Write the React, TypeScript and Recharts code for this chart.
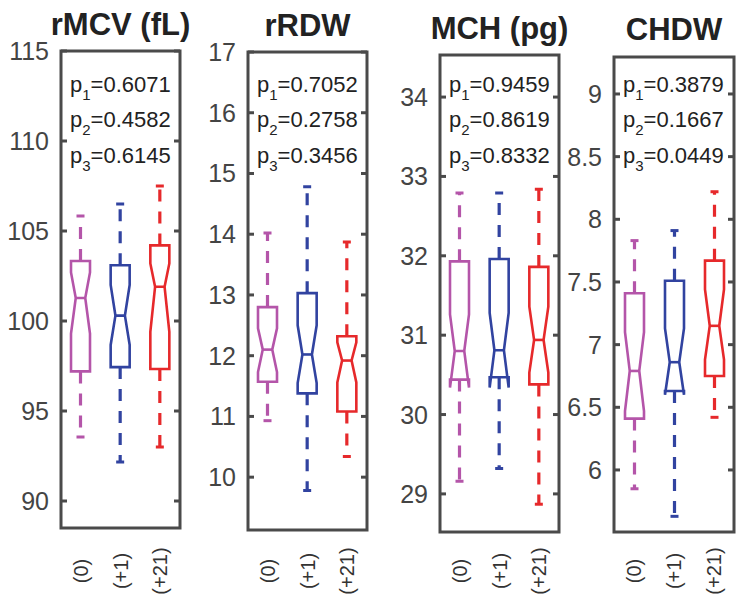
import React from "react";
import { ComposedChart, Bar, XAxis, YAxis, ReferenceArea } from "recharts";

// groups on the x axis
const groups = ["(0)", "(+1)", "(+21)"];
const boxColors = ["#B455A9", "#3143A0", "#E6292B"];

// rMCV (fL)
const rmcvLo = [93.55, 92.17, 93.0];
const rmcvQ1 = [97.2, 97.44, 97.33];
const rmcvNotchLo = [99.3, 98.67, 99.4];
const rmcvMed = [101.28, 100.3, 101.9];
const rmcvNotchHi = [102.7, 102.0, 103.2];
const rmcvQ3 = [103.33, 103.1, 104.2];
const rmcvHi = [105.83, 106.5, 107.5];
const rmcvTicks = [90, 95, 100, 105, 110, 115];
const rmcvDomain = [88.5, 115];
const rmcvP = ["0.6071", "0.4582", "0.6145"];

// rRDW
const rrdwLo = [10.93, 9.78, 10.34];
const rrdwQ1 = [11.57, 11.38, 11.08];
const rrdwNotchLo = [11.73, 11.55, 11.56];
const rrdwMed = [12.1, 12.02, 11.92];
const rrdwNotchHi = [12.45, 12.5, 12.22];
const rrdwQ3 = [12.8, 13.03, 12.32];
const rrdwHi = [14.02, 14.78, 13.87];
const rrdwTicks = [10, 11, 12, 13, 14, 15, 16, 17];
const rrdwDomain = [9.13, 17];
const rrdwP = ["0.7052", "0.2758", "0.3456"];

// MCH (pg)
const mchLo = [29.16, 29.32, 28.87];
const mchQ1 = [30.44, 30.47, 30.38];
const mchNotchLo = [30.34, 30.34, 30.53];
const mchMed = [30.8, 30.81, 30.94];
const mchNotchHi = [31.26, 31.28, 31.36];
const mchQ3 = [31.93, 31.96, 31.86];
const mchHi = [32.79, 32.79, 32.84];
const mchTicks = [29, 30, 31, 32, 33, 34];
const mchDomain = [28.52, 34.53];
const mchP = ["0.9459", "0.8619", "0.8332"];

// CHDW
const chdwLo = [5.85, 5.63, 6.42];
const chdwQ1 = [6.41, 6.63, 6.75];
const chdwNotchLo = [6.47, 6.6, 6.88];
const chdwMed = [6.79, 6.86, 7.15];
const chdwNotchHi = [7.1, 7.13, 7.44];
const chdwQ3 = [7.41, 7.51, 7.67];
const chdwHi = [7.83, 7.91, 8.22];
const chdwTicks = [6, 6.5, 7, 7.5, 8, 8.5, 9];
const chdwDomain = [5.505, 9.295];
const chdwP = ["0.3879", "0.1667", "0.0449"];

const FONT = "'Liberation Sans', Arial, Helvetica, sans-serif";
const FRAME = "#4a4a4a";
const AXIS_W = 60;

const buildRows = (
  lo: number[], q1: number[], nlo: number[], med: number[],
  nhi: number[], q3: number[], hi: number[]
) =>
  groups.map((g, i) => ({
    grp: g,
    range: [lo[i], hi[i]],
    lo: lo[i], q1: q1[i], nlo: nlo[i], med: med[i], nhi: nhi[i], q3: q3[i], hi: hi[i],
  }));

const panels = [
  { title: "rMCV (fL)", rows: buildRows(rmcvLo, rmcvQ1, rmcvNotchLo, rmcvMed, rmcvNotchHi, rmcvQ3, rmcvHi), ticks: rmcvTicks, domain: rmcvDomain, p: rmcvP, L: 61, R: 180, T: 51, B: 528, titleY: 35 },
  { title: "rRDW", rows: buildRows(rrdwLo, rrdwQ1, rrdwNotchLo, rrdwMed, rrdwNotchHi, rrdwQ3, rrdwHi), ticks: rrdwTicks, domain: rrdwDomain, p: rrdwP, L: 248, R: 367, T: 52, B: 530, titleY: 36 },
  { title: "MCH (pg)", rows: buildRows(mchLo, mchQ1, mchNotchLo, mchMed, mchNotchHi, mchQ3, mchHi), ticks: mchTicks, domain: mchDomain, p: mchP, L: 440, R: 559, T: 55, B: 532, titleY: 39 },
  { title: "CHDW", rows: buildRows(chdwLo, chdwQ1, chdwNotchLo, chdwMed, chdwNotchHi, chdwQ3, chdwHi), ticks: chdwTicks, domain: chdwDomain, p: chdwP, L: 614, R: 734, T: 57, B: 532, titleY: 40 },
];

// notched box drawn inside the bar's [lo, hi] range
const BoxShape = (props: any) => {
  const { x, y, width, height, payload } = props;
  const p = payload;
  const color = boxColors[groups.indexOf(p.grp)];
  const py = (v: number) => y + ((p.hi - v) / (p.hi - p.lo)) * height;
  const cx = x + width / 2;
  const inL = x + width * 0.25;
  const inR = x + width * 0.75;
  const d = [
    `M${x},${py(p.q3)}`,
    `H${x + width}`,
    `V${py(p.nhi)}`,
    `L${inR},${py(p.med)}`,
    `L${x + width},${py(p.nlo)}`,
    `V${py(p.q1)}`,
    `H${x}`,
    `V${py(p.nlo)}`,
    `L${inL},${py(p.med)}`,
    `L${x},${py(p.nhi)}`,
    "Z",
  ].join(" ");
  return (
    <g>
      <line x1={cx} x2={cx} y1={py(p.q3)} y2={py(p.hi)} stroke={color} strokeWidth={3.2} strokeDasharray="12 10" />
      <line x1={cx} x2={cx} y1={py(p.q1)} y2={py(p.lo)} stroke={color} strokeWidth={3.2} strokeDasharray="12 10" />
      <line x1={cx - 4} x2={cx + 4} y1={py(p.hi)} y2={py(p.hi)} stroke={color} strokeWidth={3} />
      <line x1={cx - 4} x2={cx + 4} y1={py(p.lo)} y2={py(p.lo)} stroke={color} strokeWidth={3} />
      <path d={d} fill="#fff" stroke={color} strokeWidth={2.6} strokeLinejoin="miter" />
      <line x1={inL} x2={inR} y1={py(p.med)} y2={py(p.med)} stroke={color} strokeWidth={2.6} />
    </g>
  );
};

const XTick = (props: any) => {
  const { x, payload } = props;
  return (
    <text
      x={x}
      y={571}
      transform={`rotate(-90, ${x}, 571)`}
      textAnchor="middle"
      dominantBaseline="central"
      fill="#333"
      fontSize={20}
      fontFamily={FONT}
    >
      {payload.value}
    </text>
  );
};

// label on the left plus inward tick marks on both sides of the frame
const makeYTick = (plotW: number) => (props: any) => {
  const { y, payload } = props;
  return (
    <g>
      <text
        x={AXIS_W - 12}
        y={y}
        textAnchor="end"
        dominantBaseline="central"
        fill="#444"
        fontSize={25}
        fontFamily={FONT}
      >
        {payload.value}
      </text>
      <line x1={AXIS_W} x2={AXIS_W + 6} y1={y} y2={y} stroke={FRAME} strokeWidth={3} />
      <line x1={AXIS_W + plotW - 6} x2={AXIS_W + plotW} y1={y} y2={y} stroke={FRAME} strokeWidth={3} />
    </g>
  );
};

const Panel = ({ panel }: { panel: any }) => {
  const plotW = panel.R - panel.L;
  const w = plotW + AXIS_W + 10;
  const YTick = makeYTick(plotW);
  return (
    <div style={{ position: "absolute", left: panel.L - AXIS_W, top: 0 }}>
      <ComposedChart
        width={w}
        height={611}
        data={panel.rows}
        margin={{ top: panel.T, right: 10, bottom: 0, left: 0 }}
      >
        <XAxis
          dataKey="grp"
          height={611 - panel.B}
          tickLine={false}
          axisLine={false}
          tick={<XTick />}
          interval={0}
        />
        <YAxis
          yAxisId="left"
          type="number"
          width={AXIS_W}
          domain={panel.domain}
          ticks={panel.ticks}
          allowDataOverflow
          interval={0}
          tickLine={false}
          axisLine={false}
          tick={<YTick />}
        />
        <ReferenceArea
          yAxisId="left"
          y1={panel.domain[0]}
          y2={panel.domain[1]}
          fill="none"
          fillOpacity={0}
          stroke={FRAME}
          strokeWidth={3}
          ifOverflow="visible"
        />
        <Bar
          yAxisId="left"
          dataKey="range"
          barSize={19}
          shape={BoxShape}
          isAnimationActive={false}
        />
      </ComposedChart>
    </div>
  );
};

const pLineY = [92, 127, 163];

export default function App() {
  return (
    <div style={{ position: "absolute", left: 0, top: 0, width: 742, height: 611, background: "#fff", fontFamily: FONT }}>
      {panels.map((panel) => (
        <Panel key={panel.title} panel={panel} />
      ))}
      <svg width={742} height={611} style={{ position: "absolute", left: 0, top: 0, pointerEvents: "none" }}>
        {panels.map((panel) => (
          <g key={panel.title}>
            <text
              x={(panel.L + panel.R) / 2}
              y={panel.titleY}
              textAnchor="middle"
              fontSize={31}
              fontWeight="bold"
              fill="#222"
              fontFamily={FONT}
            >
              {panel.title}
            </text>
            {panel.p.map((val: string, i: number) => (
              <text key={i} x={panel.L + 9} y={pLineY[i]} fontSize={22} fill="#222" fontFamily={FONT}>
                p
                <tspan dy={8} fontSize={15}>{i + 1}</tspan>
                <tspan dy={-8}>={val}</tspan>
              </text>
            ))}
          </g>
        ))}
      </svg>
    </div>
  );
}
